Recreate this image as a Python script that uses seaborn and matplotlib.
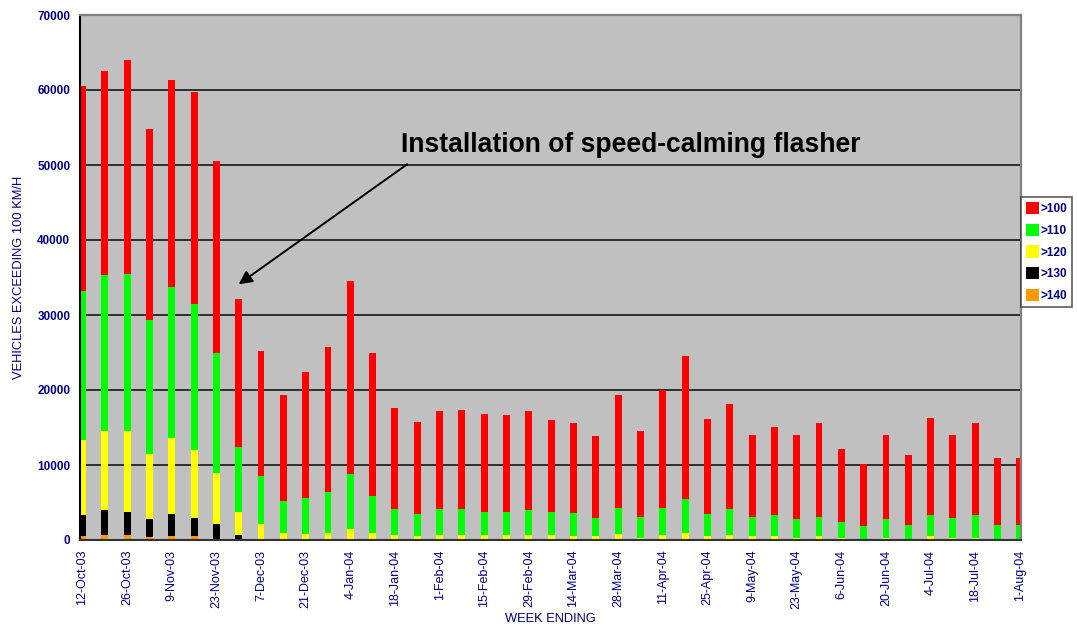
import matplotlib
matplotlib.use("Agg")
import matplotlib.pyplot as plt
from matplotlib.patches import Patch
import seaborn as sns
import pandas as pd

weeks = ["12-Oct-03", "19-Oct-03", "26-Oct-03", "2-Nov-03", "9-Nov-03", "16-Nov-03", "23-Nov-03",
         "30-Nov-03", "7-Dec-03", "14-Dec-03", "21-Dec-03", "28-Dec-03", "4-Jan-04", "11-Jan-04",
         "18-Jan-04", "25-Jan-04", "1-Feb-04", "8-Feb-04", "15-Feb-04", "22-Feb-04", "29-Feb-04",
         "7-Mar-04", "14-Mar-04", "21-Mar-04", "28-Mar-04", "4-Apr-04", "11-Apr-04", "18-Apr-04",
         "25-Apr-04", "2-May-04", "9-May-04", "16-May-04", "23-May-04", "30-May-04", "6-Jun-04",
         "13-Jun-04", "20-Jun-04", "27-Jun-04", "4-Jul-04", "11-Jul-04", "18-Jul-04", "25-Jul-04",
         "1-Aug-04"]

over100 = [60500, 62600, 64000, 54800, 61400, 59700, 50600, 32200, 25200, 19300, 22400, 25700,
           34600, 25000, 17600, 15800, 17200, 17400, 16800, 16700, 17200, 16000, 15600, 13900,
           19300, 14600, 20000, 24500, 16100, 18200, 14000, 15100, 14000, 15600, 12100, 10200,
           14000, 11400, 16300, 14000, 15600, 10900, 10900]
over110 = [33200, 35300, 35500, 29400, 33800, 31500, 24900, 12400, 8500, 5200, 5600, 6400,
           8850, 5900, 4100, 3500, 4100, 4100, 3800, 3800, 3950, 3800, 3650, 2900,
           4300, 3100, 4300, 5500, 3500, 4100, 3100, 3300, 2750, 3100, 2400, 1850,
           2750, 2050, 3300, 2900, 3300, 2050, 2050]
over120 = [13300, 14600, 14600, 11500, 13600, 12000, 9000, 3800, 2200, 1000, 850, 1000,
           1500, 1000, 650, 500, 650, 650, 650, 650, 650, 650, 500, 500,
           850, 300, 650, 1000, 500, 650, 500, 500, 300, 500, 300, 150,
           300, 150, 500, 300, 300, 150, 150]
over130 = [3400, 4000, 3800, 2800, 3500, 2900, 2100, 700, 150, 0, 0, 0,
           0, 0, 0, 0, 0, 0, 0, 0, 0, 0, 0, 0,
           0, 0, 0, 0, 0, 0, 0, 0, 0, 0, 0, 0,
           0, 0, 0, 0, 0, 0, 0]
over140 = [500, 700, 700, 350, 500, 500, 150, 50, 0, 0, 0, 0,
           0, 0, 0, 0, 0, 0, 0, 0, 0, 0, 0, 0,
           0, 0, 0, 0, 0, 0, 0, 0, 0, 0, 0, 0,
           0, 0, 0, 0, 0, 0, 0]

series_labels = [">100", ">110", ">120", ">130", ">140"]
series_values = [over100, over110, over120, over130, over140]
colors = ["#FF0000", "#00FF00", "#FFFF00", "#000000", "#FF9900"]

navy = "#000080"
sns.set_style("white")
plt.rcParams["font.family"] = ["Liberation Sans", "DejaVu Sans"]

fig = plt.figure(figsize=(10.77, 6.29), dpi=100)
ax = fig.add_axes([80/1077, 1 - 540/629, (1021 - 80)/1077, (540 - 15)/629])
ax.set_facecolor("#C0C0C0")

for lab, vals, col in zip(series_labels, series_values, colors):
    df = pd.DataFrame({"week": weeks, "count": vals})
    sns.barplot(data=df, x="week", y="count", order=weeks, color=col, width=0.31,
                linewidth=0, saturation=1, ax=ax, zorder=3)

ax.set_ylim(0, 70000)
ax.set_xlim(-0.11, 42.05)
ax.set_yticks(range(0, 70001, 10000))
ax.set_yticklabels([str(v) for v in range(0, 70001, 10000)], color=navy,
                   fontsize=8.5, fontweight="bold")
ax.set_xticks(range(0, len(weeks), 2))
ax.set_xticklabels(weeks[::2], rotation=90, color=navy, fontsize=9)
ax.tick_params(axis="both", direction="out", length=4, width=1, color="black", pad=3)
for y in range(10000, 70001, 10000):
    ax.axhline(y, color="#222222", lw=1.3, zorder=1)

ax.set_xlabel("WEEK ENDING", color=navy, fontsize=9.3, labelpad=3)
ax.set_ylabel("VEHICLES EXCEEDING 100 KM/H", color=navy, fontsize=9.3, labelpad=9)

for s in ["top", "right"]:
    ax.spines[s].set_color("#808080")
    ax.spines[s].set_linewidth(1.6)
ax.spines["left"].set_color("black")
ax.spines["left"].set_linewidth(1.5)
ax.spines["bottom"].set_color("#333333")
ax.spines["bottom"].set_linewidth(1.5)
for s in ax.spines.values():
    s.set_zorder(5)

ax.text(14.28, 52600, "Installation of speed-calming flasher", fontsize=19.1,
        fontweight="bold", color="black", va="center", ha="left", zorder=6)
ax.annotate("", xy=(7.0, 34100), xytext=(14.55, 50100), zorder=6,
            arrowprops=dict(arrowstyle="-|>", color="black", lw=1.4, mutation_scale=20,
                            shrinkA=0, shrinkB=0))

handles = [Patch(facecolor=c, edgecolor="none", label=l) for c, l in zip(colors, series_labels)]
leg = fig.legend(handles=handles, loc="upper left", bbox_to_anchor=(1021/1077, 1 - 197/629),
                 frameon=True, fancybox=False, fontsize=8.5, handlelength=1.1, handleheight=1.2,
                 handletextpad=0.15, borderpad=0.4, labelspacing=0.75, borderaxespad=0)
leg.get_frame().set_edgecolor("#333333")
leg.get_frame().set_linewidth(1.2)
for t in leg.get_texts():
    t.set_color(navy)
    t.set_fontweight("bold")

fig.savefig("out.png", dpi=100)
